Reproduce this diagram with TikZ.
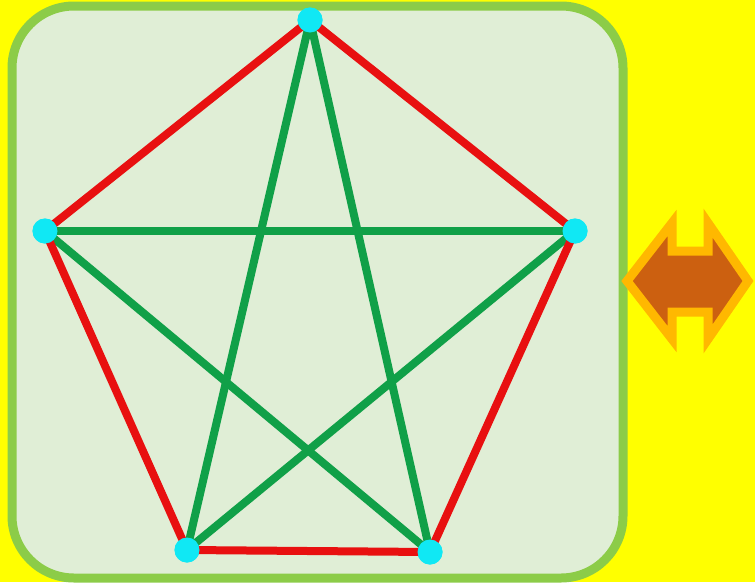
\documentclass[tikz,border=0pt]{standalone}
\usetikzlibrary{calc}
\definecolor{bgyellow}{RGB}{255,255,0}
\definecolor{panelfill}{RGB}{224,238,214}
\definecolor{panelborder}{RGB}{140,204,72}
\definecolor{edgered}{RGB}{232,16,16}
\definecolor{edgegreen}{RGB}{16,160,72}
\definecolor{vcyan}{RGB}{16,232,244}
\definecolor{arrowfill}{RGB}{204,96,16}
\definecolor{arrowborder}{RGB}{255,184,0}
\tikzset{
  vertex/.style={circle,fill=vcyan,draw=none,minimum size=25pt,inner sep=0pt},
  rededge/.style={draw=edgered,line width=8pt},
  greenedge/.style={draw=edgegreen,line width=8pt},
}
\begin{document}
\begin{tikzpicture}[x=1pt,y=-1pt]
\useasboundingbox (0,0) rectangle (755,582);
\fill[bgyellow] (0,0) rectangle (755,582);
\draw[panelborder,fill=panelfill,line width=9pt,rounded corners=62pt] (12,6) rectangle (623,578);
% vertices
\node[vertex] (t) at (310,20) {};
\node[vertex] (l) at (45,231) {};
\node[vertex] (r) at (575,231) {};
\node[vertex] (bl) at (187,550) {};
\node[vertex] (br) at (430,552) {};
% star
\draw[greenedge] (t.center) -- (bl.center);
\draw[greenedge] (t.center) -- (br.center);
\draw[greenedge] (l.center) -- (r.center);
\draw[greenedge] (l.center) -- (br.center);
\draw[greenedge] (r.center) -- (bl.center);
% pentagon
\draw[rededge] (t.center) -- (r.center);
\draw[rededge] (r.center) -- (br.center);
\draw[rededge] (br.center) -- (bl.center);
\draw[rededge] (bl.center) -- (l.center);
\draw[rededge] (l.center) -- (t.center);
% redraw vertices on top
\foreach \v in {t,l,r,bl,br} \fill[vcyan] (\v) circle (12.5pt);
% double arrow
\draw[arrowborder,fill=arrowfill,line width=9pt,line join=miter,miter limit=4]
  (627,281) -- (672,223) -- (672,251) -- (708,251) -- (708,223) -- (748,281)
  -- (708,339) -- (708,312) -- (672,312) -- (672,339) -- cycle;
\end{tikzpicture}
\end{document}
